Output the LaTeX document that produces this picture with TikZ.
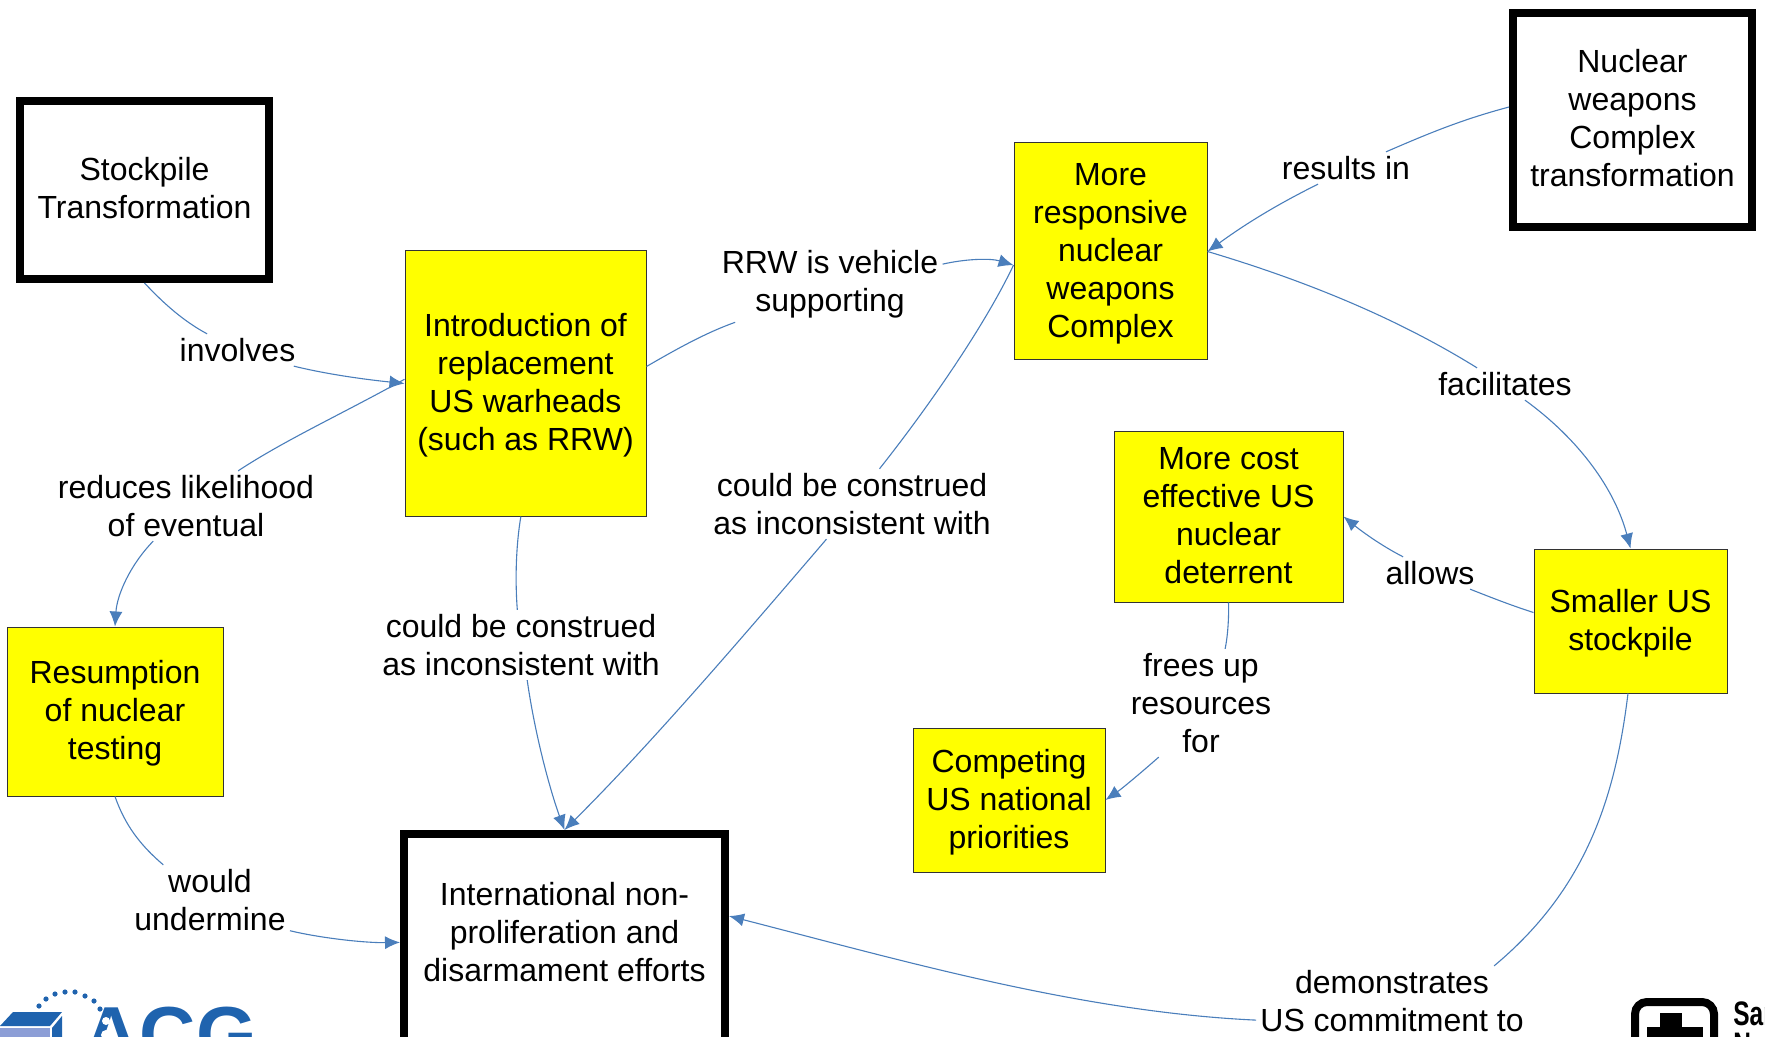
\documentclass[tikz,border=0pt]{standalone}
\usepackage{fontspec}
\setmainfont{Liberation Sans}
\usetikzlibrary{arrows.meta}
\definecolor{link}{HTML}{4A7EBB}
\definecolor{acgblue}{HTML}{1F63AE}
\definecolor{cubeface}{HTML}{8C9ED6}
\definecolor{causefill}{HTML}{FFFF00}
\begin{document}
\begin{tikzpicture}[x=0.5pt, y=-0.5pt,
  every node/.style = {font=\fontsize{16}{19}\selectfont, align=center},
  cause/.style = {draw=black!80, line width=0.5pt, fill=causefill, inner sep=0pt, text depth=1.4pt},
  main/.style = {draw=black, line width=4pt, fill=white, inner sep=0pt, text depth=2pt},
  word/.style = {inner sep=2pt},
  line/.style = {draw=link, line width=0.55pt},
  arrow/.style = {line, -{Latex[length=7.5pt,width=6.5pt]}}] 
\useasboundingbox (0,0) rectangle (1765,1037);

\node[main, minimum width=124.5pt, minimum height=89pt] (stock) at (144.5,190) {Stockpile\\Transformation}; 
\node[main, minimum width=119.5pt, minimum height=107pt] (complex) at (1632.5,120) {Nuclear\\weapons\\Complex\\transformation}; 
\node[main, minimum width=160.5pt, minimum height=117pt, text depth=0pt] (intl) at (564.5,951) {International non-\\proliferation and\\disarmament efforts\\ \mbox{}}; 

\node[cause, minimum width=120.5pt, minimum height=132.5pt] (intro) at (525.5,383.5) {Introduction of\\replacement\\US warheads\\(such as RRW)}; 
\node[cause, minimum width=96.5pt, minimum height=108.5pt] (resp) at (1110.5,251.5) {More\\responsive\\nuclear\\weapons\\Complex}; 
\node[cause, minimum width=114.5pt, minimum height=85.5pt] (cost) at (1228.5,516.5) {More cost\\effective US\\nuclear\\deterrent}; 
\node[cause, minimum width=96.5pt, minimum height=72pt] (small) at (1630.5,621) {Smaller US\\stockpile}; 
\node[cause, minimum width=108pt, minimum height=84.5pt] (resume) at (115,711.5) {Resumption\\of nuclear\\testing}; 
\node[cause, minimum width=96pt, minimum height=72pt] (compete) at (1009,800) {Competing\\US national\\priorities}; 

\node[word] (a) at (237.5,350) {involves}; 
\node[word] (b) at (186,506) {reduces likelihood\\of eventual}; 
\node[word] (c) at (830,284) {RRW is vehicle\\supporting}; 
\node[word] (d) at (521,645) {could be construed\\as inconsistent with}; 
\node[word] (e) at (852,504) {could be construed\\as inconsistent with}; 
\node[word] (f) at (1346,168) {results in}; 
\node[word] (g) at (1505,384) {facilitates}; 
\node[word] (h) at (1430,573) {allows}; 
\node[word] (i) at (1392,1001) {demonstrates\\US commitment to}; 
\node[word] (j) at (1201,703) {frees up\\resources\\for}; 
\node[word] (k) at (210,900) {would\\undermine}; 

\draw[line] (stock.south) .. controls (165,305) and (185,322) .. (a.152); 
\draw[arrow] (a.344) .. controls (330,375) and (370,380) .. (intro.west); 

\draw[line] (intro.178) .. controls (340,415) and (285,440) .. (b.34); 
\draw[arrow] (b.227) .. controls (130,565) and (117,595) .. (resume.north); 

\draw[line] (intro.8) .. controls (675,350) and (705,333) .. (c.202); 
\draw[arrow] (c.10) .. controls (965,259) and (990,258) .. (resp.188); 

\draw[line] (intro.268) .. controls (516,545) and (515,580) .. (d.96); 
\draw[arrow] (d.280) .. controls (535,735) and (550,790) .. (intl.north); 

\draw[line] (resp.188) .. controls (985,325) and (930,405) .. (e.52); 
\draw[arrow] (e.234) .. controls (740,640) and (650,745) .. (intl.north); 

\draw[line] (complex.174) .. controls (1460,120) and (1425,135) .. (f.22); 
\draw[arrow] (f.210) .. controls (1270,208) and (1240,228) .. (resp.east); 

\draw[line] (resp.east) .. controls (1310,282) and (1400,320) .. (g.150); 
\draw[arrow] (g.321) .. controls (1580,440) and (1615,490) .. (small.north); 

\draw[line] (small.175) .. controls (1510,605) and (1490,597) .. (h.338); 
\draw[arrow] (h.149) .. controls (1380,545) and (1360,530) .. (cost.east); 

\draw[line] (small.268) .. controls (1615,800) and (1585,890) .. (i.19); 
\draw[arrow] (i.188) .. controls (1080,1012) and (900,960) .. (intl.12); 

\draw[line] (cost.south) .. controls (1229,615) and (1228,635) .. (j.66); 
\draw[arrow] (j.232) .. controls (1135,778) and (1120,790) .. (compete.east); 

\draw[line] (resume.south) .. controls (125,825) and (140,845) .. (k.143); 
\draw[arrow] (k.339) .. controls (320,938) and (365,943) .. (intl.177); 

\foreach \x/\y in {39/1006, 46/999, 55/994, 65/992, 75/992, 85/996, 94/1001, 100/1009}
  \fill[acgblue] (\x,\y) circle (1.3pt); 
\fill[acgblue] (0,1026) -- (13,1012) -- (62,1012) -- (50,1026) -- cycle; 
\fill[acgblue] (52,1028) -- (62,1016) -- (62,1037) -- (52,1037) -- cycle; 
\fill[cubeface] (0,1028) rectangle (50,1037); 
\node[inner sep=0pt, anchor=base west, text=acgblue, font=\bfseries\fontsize{39}{39}\selectfont] (acg) at (83,1061) {ACG}; 
\fill[white] (106,1021) circle (2pt); 
\fill[white] (106,1035) circle (2.5pt); 

\draw[black, line width=4pt, rounded corners=6pt] (1635,1060) -- (1635,1002) -- (1714,1002) -- (1714,1060); 
\fill[black] (1660,1013) rectangle (1682,1037); 
\fill[black] (1647,1027) rectangle (1703,1037); 
\node[inner sep=0pt, anchor=base west, xscale=0.72, font=\bfseries\fontsize{17}{17}\selectfont] (san) at (1733,1025) {San}; 
\node[inner sep=0pt, anchor=base west, xscale=0.72, font=\bfseries\fontsize{17}{17}\selectfont] (nat) at (1733,1056) {N}; 

\end{tikzpicture}
\end{document}
